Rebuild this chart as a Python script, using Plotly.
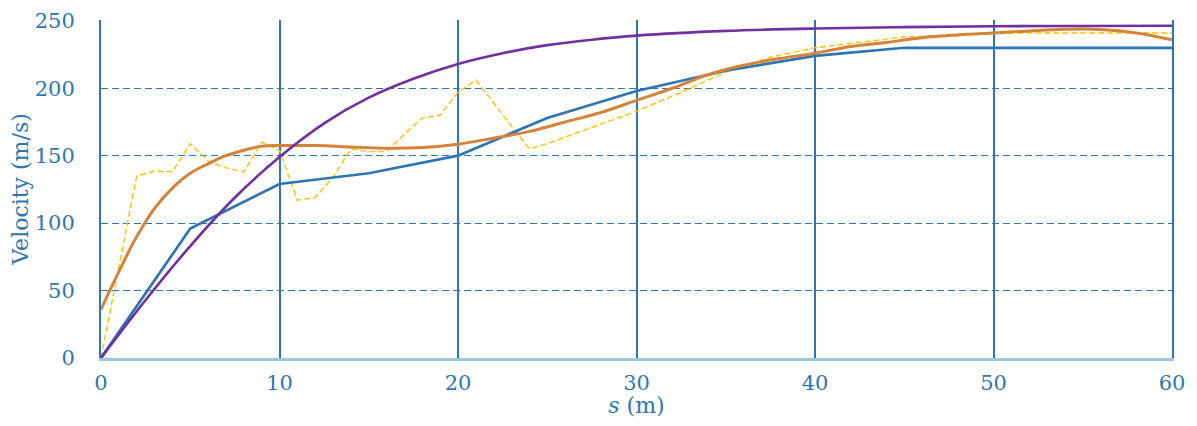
import plotly.graph_objects as go

# ---- data ----
blue_s = [0, 5, 10, 15, 20, 25, 30, 35, 40, 45, 50, 55, 60]
blue_v = [0, 96, 129, 137, 150, 178, 198, 213, 224, 230, 230, 230, 230]

purple_s = [0, 2.5, 5, 7.5, 10, 12.5, 15, 17.5, 20, 22.5, 25, 27.5, 30, 35, 40, 45, 50, 55, 60]
purple_v = [0, 43, 83, 119, 149, 174, 193, 207, 218, 226, 232, 236, 239, 242.5, 244.3, 245.3, 246, 246.2, 246.3]

orange_s = [0, 1, 2, 3, 4, 5, 6, 7, 8, 9, 10, 12, 14, 16, 18, 20, 22, 24, 26, 28, 30,
            32, 34, 36, 38, 40, 42, 44, 46, 48, 50, 52, 54, 55, 56, 58, 60]
orange_v = [36, 64, 90, 111, 126, 137, 144, 150, 154, 157, 157.5, 157.5, 156.5, 155.5, 156,
            158.5, 163, 168, 175, 182, 191, 200, 210, 217, 222, 226, 231, 234, 237.5, 239.5,
            241, 242.5, 243.7, 244, 243.5, 241, 236]

yellow_s = [0, 2, 3, 4, 5, 6, 7, 8, 9, 10, 11, 12, 13, 14, 15, 16, 17, 18, 19, 20, 21,
            22, 23, 24, 25, 27.5, 30, 32.5, 35, 37.5, 40, 45, 50, 55, 60]
yellow_v = [0, 135, 138.5, 138, 159, 146, 141, 138, 160, 154, 117, 119, 134, 155, 153,
            153, 166, 178, 180, 197, 206, 189, 172, 155, 159, 171, 183, 197, 212, 223, 230,
            238, 241, 241, 241]

x_ticks = [0, 10, 20, 30, 40, 50, 60]
y_ticks = [0, 50, 100, 150, 200, 250]

BLUE = "#2E75B6"
FONT = "DejaVu Serif"

fig = go.Figure()
fig.add_trace(go.Scatter(x=yellow_s, y=yellow_v, mode="lines",
                         line=dict(color="#FFC000", width=1.4, dash="6px,3px")))
fig.add_trace(go.Scatter(x=blue_s, y=blue_v, mode="lines",
                         line=dict(color=BLUE, width=2.7)))
fig.add_trace(go.Scatter(x=orange_s, y=orange_v, mode="lines", line_shape="spline",
                         line=dict(color="#D4843A", width=3)))
fig.add_trace(go.Scatter(x=purple_s, y=purple_v, mode="lines", line_shape="spline",
                         line=dict(color="#7030A0", width=2.6)))

fig.update_layout(
    width=1181, height=410,
    margin=dict(l=93, r=17, t=12, b=60, autoexpand=False),
    paper_bgcolor="white", plot_bgcolor="white",
    showlegend=False,
    font=dict(family=FONT, color=BLUE, size=21),
)
fig.update_xaxes(
    range=[0, 60], tickvals=x_ticks, ticktext=[str(t) for t in x_ticks],
    showgrid=True, gridcolor=BLUE, gridwidth=2,
    zeroline=False, showline=True, linecolor="#9DC3E6", linewidth=3,
    ticks="", ticklabelstandoff=4, automargin=False,
    title=dict(text="<i>s</i> (m)", standoff=6, font=dict(size=22)),
)
fig.update_yaxes(
    range=[0, 250.6], tickvals=y_ticks, ticktext=[str(t) for t in y_ticks],
    showgrid=True, gridcolor=BLUE, gridwidth=1.3, griddash="7px,4px",
    zeroline=False, showline=True, mirror=True, linecolor=BLUE, linewidth=2,
    ticks="", ticklabelstandoff=20, automargin=False,
    title=dict(text="Velocity (m/s)", standoff=12, font=dict(size=22)),
)

fig.write_html("out.html")
